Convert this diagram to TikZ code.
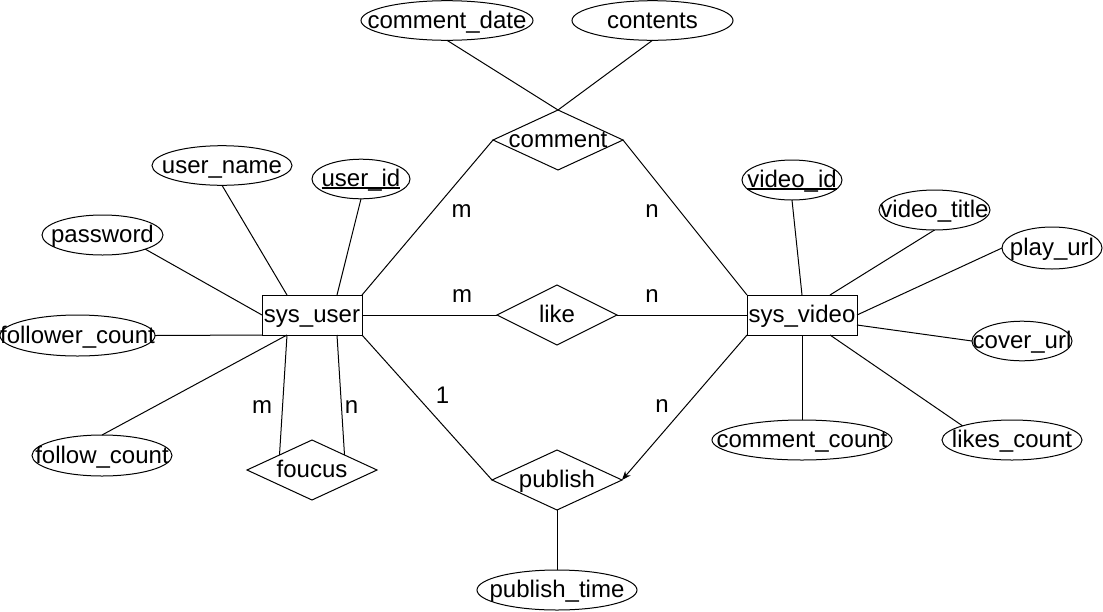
\documentclass[tikz,border=0pt]{standalone}
\usepackage{fontspec}
\setmainfont{Liberation Sans}
\usetikzlibrary{shapes.geometric,arrows.meta}
\newcommand\tx[1]{\makebox[0pt]{\rule[-6.4pt]{0pt}{28pt}#1}}
\newcommand\ulbox[1]{\setbox0\hbox{#1}\rlap{\rule[-2.2pt]{\wd0}{1.5pt}}\box0}
\begin{document}
\begin{tikzpicture}[x=1pt,y=-1pt,
  every node/.style={font=\fontsize{24}{28}\selectfont, inner sep=0pt, outer sep=0pt},
  attr/.style={ellipse, draw, line width=1pt},
  entity/.style={rectangle, draw, line width=1pt, minimum width=100pt, minimum height=40pt},
  rel/.style={diamond, draw, line width=1pt, minimum width=130pt, minimum height=60pt},
  card/.style={anchor=base},
  conn/.style={line width=1pt}]
\useasboundingbox (0,0) rectangle (1103,611);
% entities
\node[entity] (su) at (312,315) {\tx{sys\_user}};
\node[entity, minimum width=110pt] (sv) at (802,315) {\tx{sys\_video}};
% relationships
\node[rel] (cm) at (558,140) {\tx{comment}};
\node[rel, minimum width=120pt] (lk) at (557,315) {\tx{like}};
\node[rel] (fo) at (312,470) {\tx{foucus}};
\node[rel] (pb) at (557,480) {\tx{publish}};
% attributes
\node[attr, minimum width=172pt, minimum height=38pt] (cd) at (447,20.5) {\tx{comment\_date}};
\node[attr, minimum width=161pt, minimum height=38pt] (ct) at (652.5,20.5) {\tx{contents}};
\node[attr, minimum width=140pt, minimum height=39pt] (un) at (222,165.5) {\tx{user\_name}};
\node[attr, minimum width=98pt, minimum height=38pt] (uid) at (361,179) {\tx{\ulbox{user\_id}}};
\node[attr, minimum width=121pt, minimum height=40pt] (pw) at (102.5,235) {\tx{password}};
\node[attr, minimum width=155pt, minimum height=41pt] (fc) at (77.5,335.5) {\tx{follower\_count}};
\node[attr, minimum width=140pt, minimum height=41pt] (flc) at (102,455.5) {\tx{follow\_count}};
\node[attr, minimum width=160pt, minimum height=40pt] (pt) at (557,590) {\tx{publish\_time}};
\node[attr, minimum width=100pt, minimum height=40pt] (vid) at (792,180) {\tx{\ulbox{video\_id}}};
\node[attr, minimum width=111pt, minimum height=40pt] (vt) at (934.5,210) {\tx{video\_title}};
\node[attr, minimum width=100pt, minimum height=42pt] (purl) at (1052,248) {\tx{play\_url}};
\node[attr, minimum width=100pt, minimum height=38pt] (curl) at (1022,341) {\tx{cover\_url}};
\node[attr, minimum width=180pt, minimum height=40pt] (cc) at (802,440) {\tx{comment\_count}};
\node[attr, minimum width=140pt, minimum height=40pt] (lc) at (1012,440) {\tx{likes\_count}};
% connectors
\draw[conn] (cd.south) -- (cm.north);
\draw[conn] (ct.south) -- (cm.north);
\draw[conn] (cm.west) -- (su.north east);
\draw[conn] (cm.east) -- (sv.north west);
\draw[conn] (un.south) -- ([xshift=25pt]su.north west);
\draw[conn] (uid.south) -- ([xshift=75pt]su.north west);
\draw[conn] (pw.south east) -- (su.west);
\draw[conn] (fc.east) -- (su.south west);
\draw[conn] (flc.north) -- ([xshift=25pt]su.south west);
\draw[conn] ([xshift=25pt]su.south west) -- (fo.north west);
\draw[conn] ([xshift=75pt]su.south west) -- (fo.north east);
\draw[conn] (su.east) -- (lk.west);
\draw[conn] (lk.east) -- (sv.west);
\draw[conn] (su.south east) -- (pb.west);
\draw[conn, -{Stealth[length=9pt,width=7pt]}] (sv.south west) -- (pb.east);
\draw[conn] (pb.south) -- (pt.north);
\draw[conn] (vid.south) -- (sv.north);
\draw[conn] (vt.south) -- ([xshift=83pt]sv.north west);
\draw[conn] (purl.west) -- (sv.east);
\draw[conn] ([yshift=-10pt]sv.east) -- (curl.west);
\draw[conn] (sv.south) -- (cc.north);
\draw[conn] ([xshift=83pt]sv.south west) -- (lc.north west);
% cardinalities
\node[card] (c1) at (461.7,217) {m};
\node[card] (c2) at (652,217) {n};
\node[card] (c3) at (462,302.5) {m};
\node[card] (c4) at (652,302.5) {n};
\node[card] (c5) at (442.5,403) {1};
\node[card] (c6) at (662,412.5) {n};
\node[card] (c7) at (262,413) {m};
\node[card] (c8) at (351.5,413) {n};
\end{tikzpicture}
\end{document}
